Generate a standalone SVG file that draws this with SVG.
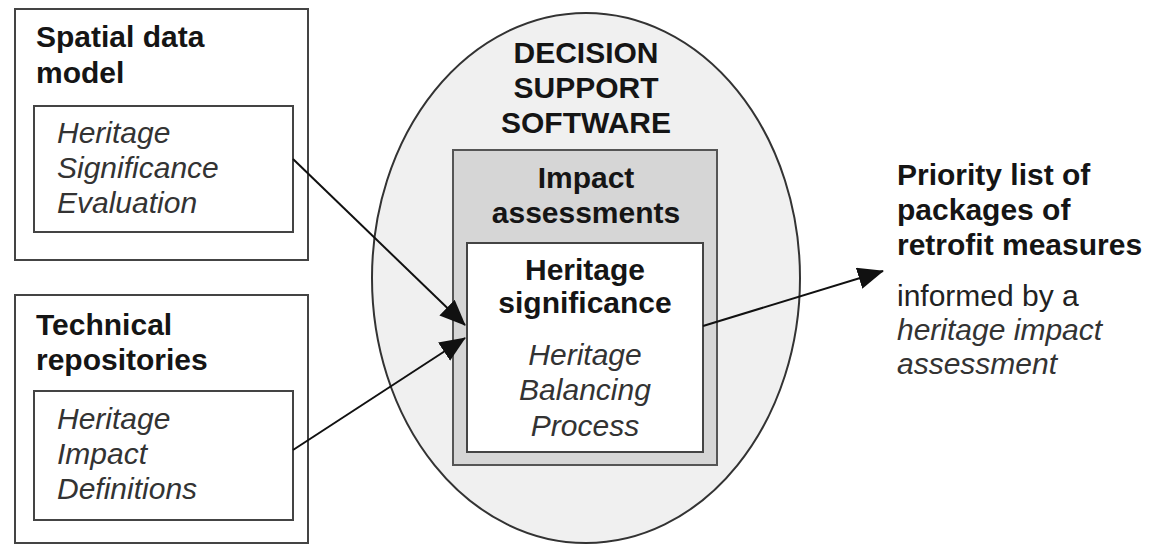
<svg xmlns="http://www.w3.org/2000/svg" width="1155" height="545" viewBox="0 0 1155 545">
<style>
  text { font-family: "Liberation Sans", Arial, sans-serif; font-size: 30px; }
  .b { font-weight: bold; fill: #151515; }
  .i { font-style: italic; fill: #333; }
  .r { fill: #222; }
  .box { fill: #fff; stroke: #444; stroke-width: 2; }
  .c { text-anchor: middle; }
  .conn { stroke: #111; stroke-width: 2; fill: none; marker-end: url(#ah); }
</style>
<defs>
  <marker id="ah" markerUnits="userSpaceOnUse" markerWidth="26" markerHeight="22" refX="25" refY="11" orient="auto">
    <path d="M0,0 L26,11 L0,22 z" fill="#111"/>
  </marker>
</defs>
<rect width="1155" height="545" fill="#fff"/>

<g id="spatial-data-model">
  <rect class="box" x="15" y="9" width="293" height="251"/>
  <text class="b" x="36" y="47">Spatial data</text>
  <text class="b" x="36" y="83">model</text>
  <rect class="box" x="34" y="106" width="259" height="126"/>
  <text class="i" x="57" y="143">Heritage</text>
  <text class="i" x="57" y="178">Significance</text>
  <text class="i" x="57" y="213">Evaluation</text>
</g>

<g id="technical-repositories">
  <rect class="box" x="15" y="295" width="293" height="248"/>
  <text class="b" x="36" y="335">Technical</text>
  <text class="b" x="36" y="370">repositories</text>
  <rect class="box" x="34" y="391" width="259" height="129"/>
  <text class="i" x="57" y="429">Heritage</text>
  <text class="i" x="57" y="464">Impact</text>
  <text class="i" x="57" y="499">Definitions</text>
</g>

<g id="decision-support-software">
  <ellipse cx="586" cy="278" rx="214" ry="265" fill="#f0f0f0" stroke="#333" stroke-width="2"/>
  <text class="b c" x="586" y="63">DECISION</text>
  <text class="b c" x="586" y="98">SUPPORT</text>
  <text class="b c" x="586" y="133">SOFTWARE</text>
</g>

<g id="impact-assessments">
  <rect x="453" y="150" width="264" height="315" fill="#d6d6d6" stroke="#555" stroke-width="2"/>
  <text class="b c" x="586" y="188">Impact</text>
  <text class="b c" x="586" y="223">assessments</text>
</g>

<g id="heritage-significance">
  <rect class="box" x="467" y="243" width="236" height="209"/>
  <text class="b c" x="585" y="280">Heritage</text>
  <text class="b c" x="585" y="313">significance</text>
  <text class="i c" x="585" y="365">Heritage</text>
  <text class="i c" x="585" y="400">Balancing</text>
  <text class="i c" x="585" y="436">Process</text>
</g>

<g id="priority-list">
  <text class="b" x="897" y="185">Priority list of</text>
  <text class="b" x="897" y="220">packages of</text>
  <text class="b" x="897" y="255">retrofit measures</text>
  <text class="r" x="897" y="306">informed by a</text>
  <text class="i" x="897" y="340">heritage impact</text>
  <text class="i" x="897" y="374">assessment</text>
</g>

<g id="connectors">
  <line class="conn" x1="293" y1="159" x2="465" y2="325"/>
  <line class="conn" x1="293" y1="450" x2="465" y2="338"/>
  <line class="conn" x1="703" y1="326" x2="883" y2="271"/>
</g>
</svg>
